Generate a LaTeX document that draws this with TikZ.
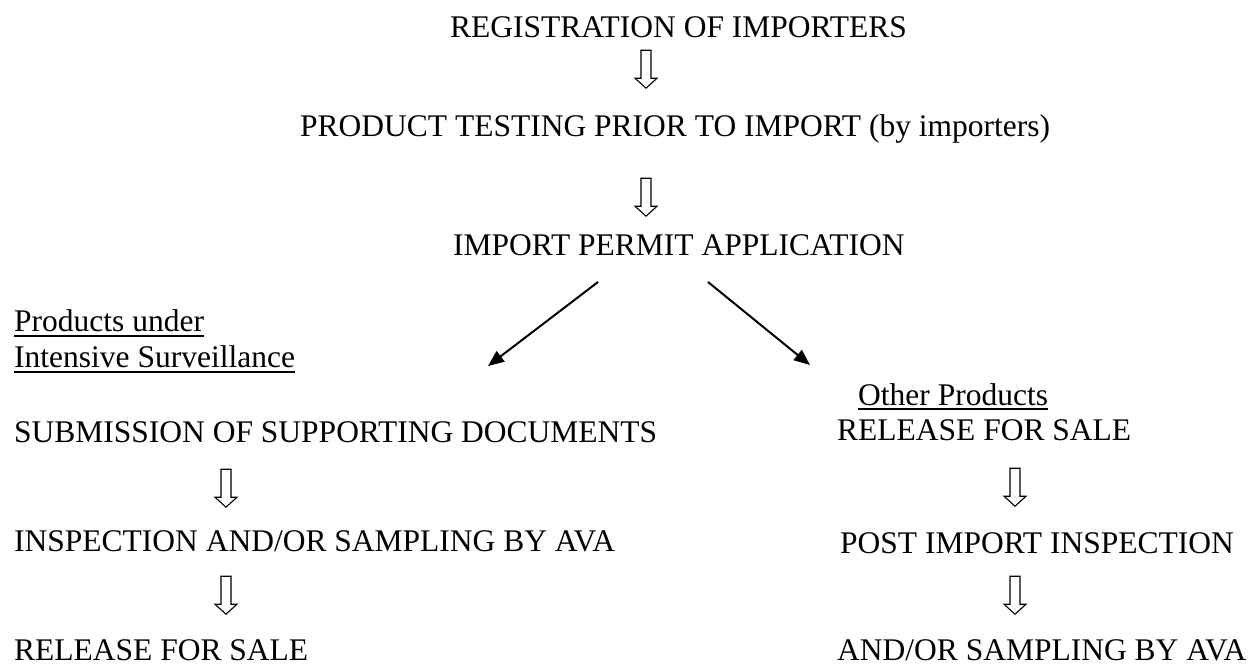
\documentclass[tikz,border=0pt]{standalone}
\usepackage{fontspec}
\setmainfont{Liberation Serif}
\usetikzlibrary{arrows.meta,calc}
\newcommand\hollowarrow[4]{% #1 upper node, #2 lower node, #3 column coordinate, #4 gap below upper baseline
  \path ($(#1.south -| #3)+(0,#4)$) coordinate (hs) ($(hs)!38pt!(#2.north -| #3)$) coordinate (ht);
  \draw[hollow] ($(hs)+(-5,0)$) -- ($(ht)+(-5,-10)$) -- ($(ht)+(-11,-10)$) -- (ht) -- ($(ht)+(11,-10)$) -- ($(ht)+(5,-10)$) -- ($(hs)+(5,0)$) -- cycle;}
\begin{document}
\begin{tikzpicture}[x=1pt,y=-1pt,
  txt/.style={inner sep=0pt, anchor=base west, font=\fontsize{31.5}{36}\selectfont, text height=21pt, text depth=0pt},
  hollow/.style={draw=black, line width=1.1pt, fill=white, line join=miter},
  diag/.style={line width=2pt, -{Triangle[length=16pt,width=13pt]}},
  uline/.style={line width=1.8pt}]
\useasboundingbox (0,0) rectangle (1254,665);
\coordinate (colC) at (646,0);
\coordinate (colL) at (226,0);
\coordinate (colR) at (1015,0);
% top column
\node[txt] (reg) at (450,37) {REGISTRATION OF IMPORTERS};
\node[txt] (prod) at (300,136) {PRODUCT TESTING PRIOR TO IMPORT (by importers)};
\node[txt] (perm) at (453,255) {IMPORT PERMIT APPLICATION};
% left column
\node[txt] (pu) at (14,331) {Products under};
\node[txt] (is) at (14,367) {Intensive Surveillance};
\node[txt] (sub) at (14,442) {SUBMISSION OF SUPPORTING DOCUMENTS};
\node[txt] (insp) at (14,551) {INSPECTION AND/OR SAMPLING BY AVA};
\node[txt] (relL) at (14,660) {RELEASE FOR SALE};
% right column
\node[txt] (op) at (858,405) {Other Products};
\node[txt] (relR) at (837,440) {RELEASE FOR SALE};
\node[txt] (post) at (840,553) {POST IMPORT INSPECTION};
\node[txt] (samp) at (837,660) {AND/OR SAMPLING BY AVA};
% underlines
\draw[uline] ($(pu.south west)+(0,5)$) -- ($(pu.south east)+(0,5)$);
\draw[uline] ($(is.south west)+(0,5)$) -- ($(is.south east)+(0,5)$);
\draw[uline] ($(op.south west)+(0,4)$) -- ($(op.south east)+(0,4)$);
% hollow arrows
\hollowarrow{reg}{prod}{colC}{13}
\hollowarrow{prod}{perm}{colC}{42}
\hollowarrow{sub}{insp}{colL}{27}
\hollowarrow{insp}{relL}{colL}{25}
\hollowarrow{relR}{post}{colR}{28}
\hollowarrow{post}{samp}{colR}{23}
% diagonal arrows
\coordinate (dls) at (598,282);
\coordinate (dle) at (488,366);
\coordinate (drs) at (708,282);
\coordinate (dre) at (810,365);
\draw[diag] (dls) -- (dle);
\draw[diag] (drs) -- (dre);
\end{tikzpicture}
\end{document}
